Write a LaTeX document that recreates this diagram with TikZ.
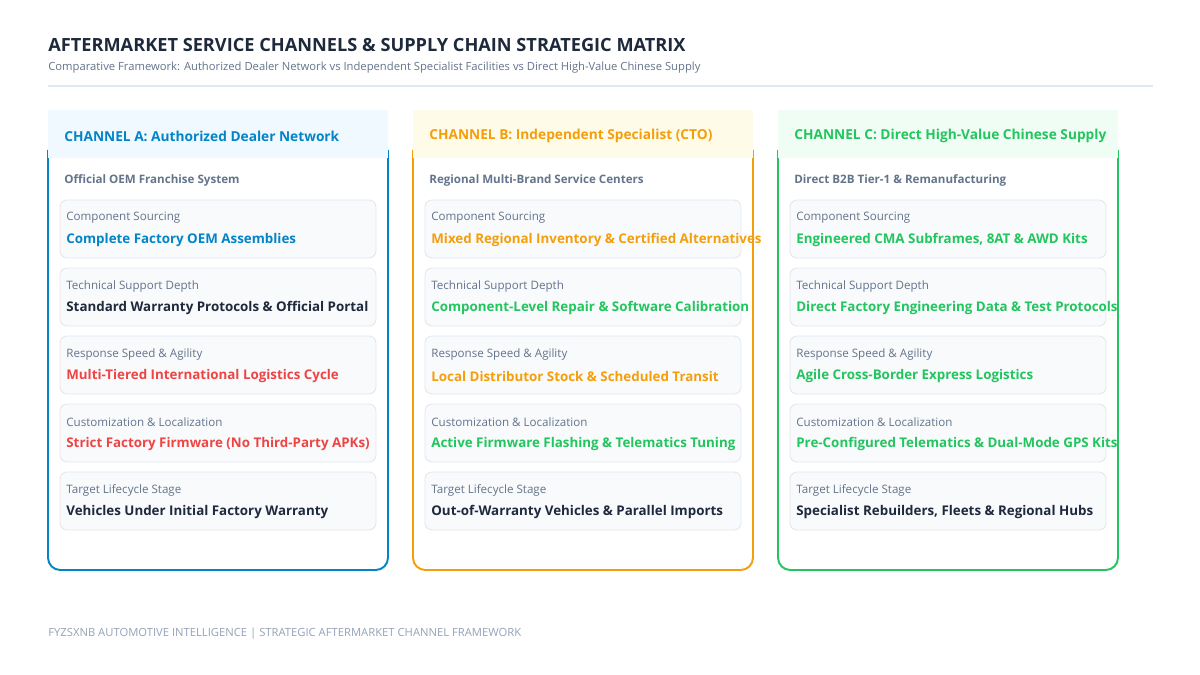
\documentclass[tikz,border=0pt]{standalone}
\usepackage{fontspec}
\setmainfont{Open Sans}
\usetikzlibrary{positioning}
\definecolor{chA}{HTML}{0284C7}
\definecolor{chAbg}{HTML}{F0F9FF}
\definecolor{chB}{HTML}{F59E0B}
\definecolor{chBbg}{HTML}{FEFCE8}
\definecolor{chC}{HTML}{22C55E}
\definecolor{chCbg}{HTML}{F0FDF4}
\definecolor{alert}{HTML}{EF4444}
\definecolor{ink}{HTML}{1E293B}
\definecolor{muted}{HTML}{64748B}
\definecolor{faint}{HTML}{94A3B8}
\definecolor{cardbg}{HTML}{F8FAFC}
\definecolor{cardline}{HTML}{E2E8F0}
\tikzset{
  lbl/.style={anchor=west,inner sep=0pt,text=muted,font=\fontsize{6.6}{8}\selectfont},
  val/.style={anchor=west,inner sep=0pt,font=\fontsize{7.6}{9}\selectfont\bfseries},
  sub/.style={anchor=west,inner sep=0pt,text=muted,font=\fontsize{6.6}{8}\selectfont\bfseries},
  head/.style={anchor=west,inner sep=0pt,font=\fontsize{7.8}{9}\selectfont\bfseries},
  card/.style={draw=cardline,fill=cardbg,rounded corners=4pt,line width=0.5pt}
}
\begin{document}
\begin{tikzpicture}[x=0.02cm,y=-0.02cm]
	\useasboundingbox[fill=white] (0,0) rectangle (1200,675);
	\node[anchor=west,inner sep=0pt,text=ink,font=\fontsize{10.35}{12}\selectfont\bfseries] (title) at (48,45) {AFTERMARKET SERVICE CHANNELS \& SUPPLY CHAIN STRATEGIC MATRIX};
	\node[anchor=west,inner sep=0pt,text=muted,font=\fontsize{6.4}{8}\selectfont] (subtitle) at (48,68) {Comparative Framework: Authorized Dealer Network vs Independent Specialist Facilities vs Direct High-Value Chinese Supply};
	\draw[cardline,line width=0.8pt] (48,86) -- (1153,86);
	% panels
	\foreach \x/\c/\bg/\name/\subt in {
		48/chA/chAbg/{CHANNEL A: Authorized Dealer Network}/{Official OEM Franchise System},
		413/chB/chBbg/{CHANNEL B: Independent Specialist (CTO)}/{Regional Multi-Brand Service Centers},
		778/chC/chCbg/{CHANNEL C: Direct High-Value Chinese Supply}/{Direct B2B Tier-1 \& Remanufacturing}}{
		\draw[\c,line width=1.1pt,rounded corners=7pt] (\x,150) -- (\x,570) -- (\x+340,570) -- (\x+340,150);
		\fill[\bg] (\x,110) rectangle (\x+340,158);
		\node[head,text=\c] at (\x+16,136) {\name};
		\node[sub] at (\x+16,180) {\subt};
		\foreach \y/\l in {200/Component Sourcing,268/Technical Support Depth,336/Response Speed \& Agility,404/Customization \& Localization,472/Target Lifecycle Stage}{
			\draw[card] (\x+12,\y) rectangle (\x+328,\y+58);
			\node[lbl] at (\x+18,\y+18) {\l};
		}
	}
	% values, channel A
	\node[val,text=chA] (a1) at (66,240) {Complete Factory OEM Assemblies};
	\node[val,text=ink] (a2) at (66,308) {Standard Warranty Protocols \& Official Portal};
	\node[val,text=alert] (a3) at (66,376) {Multi-Tiered International Logistics Cycle};
	\node[val,text=alert] (a4) at (66,444) {Strict Factory Firmware (No Third-Party APKs)};
	\node[val,text=ink] (a5) at (66,512) {Vehicles Under Initial Factory Warranty};
	% values, channel B
	\node[val,text=chB] (b1) at (431,240) {Mixed Regional Inventory \& Certified Alternatives};
	\node[val,text=chC] (b2) at (431,308) {Component-Level Repair \& Software Calibration};
	\node[val,text=chB] (b3) at (431,376) {Local Distributor Stock \& Scheduled Transit};
	\node[val,text=chC] (b4) at (431,444) {Active Firmware Flashing \& Telematics Tuning};
	\node[val,text=ink] (b5) at (431,512) {Out-of-Warranty Vehicles \& Parallel Imports};
	% values, channel C
	\node[val,text=chC] (c1) at (796,240) {Engineered CMA Subframes, 8AT \& AWD Kits};
	\node[val,text=chC] (c2) at (796,308) {Direct Factory Engineering Data \& Test Protocols};
	\node[val,text=chC] (c3) at (796,376) {Agile Cross-Border Express Logistics};
	\node[val,text=chC] (c4) at (796,444) {Pre-Configured Telematics \& Dual-Mode GPS Kits};
	\node[val,text=ink] (c5) at (796,512) {Specialist Rebuilders, Fleets \& Regional Hubs};
	\node[anchor=west,inner sep=0pt,text=faint,font=\fontsize{6.4}{8}\selectfont] (footer) at (48,634) {FYZSXNB AUTOMOTIVE INTELLIGENCE | STRATEGIC AFTERMARKET CHANNEL FRAMEWORK};
\end{tikzpicture}
\end{document}
